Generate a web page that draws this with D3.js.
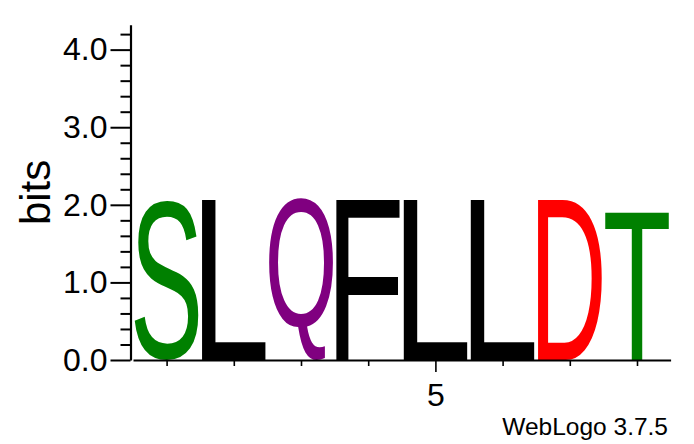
<!DOCTYPE html>
<html>
<head>
<meta charset="utf-8">
<script src="https://cdn.jsdelivr.net/npm/d3@7"></script>
<style>
  html, body { margin: 0; padding: 0; background: #fff; }
  svg { display: block; }
  text { font-family: 'Liberation Sans', Arial, Helvetica, sans-serif; }
</style>
</head>
<body>
<svg id="chart" width="694" height="444"></svg>
<script>
// ---- data ----
const positions = [1, 2, 3, 4, 5, 6, 7, 8];
const letters   = ["S", "L", "Q", "F", "L", "L", "D", "T"];
const bits      = [2.07, 2.07, 2.08, 2.07, 2.07, 2.07, 2.07, 1.92];
const colors    = ["#008000", "#000000", "#800080", "#000000", "#000000", "#000000", "#ff0000", "#008000"];
const yMajorTicks = [0, 1, 2, 3, 4];
const yMinorTicks = [0.2, 0.4, 0.6, 0.8, 1.2, 1.4, 1.6, 1.8, 2.2, 2.4, 2.6, 2.8, 3.2, 3.4, 3.6, 3.8, 4.2];
const xMajorTicks = [5];
const xMinorTicks = [1, 2, 3, 4, 6, 7, 8];
const yMax = 4.32;
const yLabel = "bits";
const fineprint = "WebLogo 3.7.5";

// ---- layout ----
const svg = d3.select("#chart");
const x = d3.scaleLinear().domain([0.5, 8.5]).range([133, 670.6]);
const y = d3.scaleLinear().domain([0, yMax]).range([360, 24.8]);
const FONT = "'Liberation Sans', Arial, Helvetica, sans-serif";

// measure glyph ink bounds with canvas
const ctx = document.createElement("canvas").getContext("2d");
const MF = 200;
ctx.font = MF + "px " + FONT;
function inkBox(ch) {
  const m = ctx.measureText(ch);
  return { l: m.actualBoundingBoxLeft, r: m.actualBoundingBoxRight,
           a: m.actualBoundingBoxAscent, d: m.actualBoundingBoxDescent };
}

// letters
const colW = x(1.5) - x(0.5);
const letterW = colW * 0.952;
const g = svg.append("g").attr("class", "letters");
positions.forEach((p, i) => {
  const b = inkBox(letters[i]);
  const w = b.l + b.r, h = b.a + b.d;
  const x0 = x(p) - letterW / 2;
  const yTop = y(bits[i]);
  const boxH = y(0) - yTop;
  const sx = letterW / w, sy = boxH / h;
  g.append("text")
    .attr("transform", `translate(${x0},${yTop}) scale(${sx},${sy}) translate(${b.l},${b.a})`)
    .attr("font-size", MF)
    .attr("fill", colors[i])
    .text(letters[i]);
});

// y axis: minor ticks
const yMinor = svg.append("g").attr("transform", "translate(130.5,0)")
  .call(d3.axisLeft(y).tickValues(yMinorTicks).tickSize(10).tickSizeOuter(0).tickFormat(""));
yMinor.select(".domain").remove();
yMinor.selectAll("line").attr("stroke-width", 2);

// y axis: major ticks + line
const yAx = svg.append("g").attr("transform", "translate(130.5,0)")
  .call(d3.axisLeft(y).tickValues(yMajorTicks).tickSize(20).tickSizeOuter(0).tickPadding(3)
        .tickFormat(d3.format(".1f")));
yAx.select(".domain").attr("stroke-width", 2.2);
yAx.selectAll("line").attr("stroke-width", 2);
yAx.selectAll("text").attr("font-size", 32).attr("font-family", FONT).attr("fill", "#000");

// x axis: line + ticks
const xMinor = svg.append("g").attr("transform", "translate(0,360)")
  .call(d3.axisBottom(x).tickValues(xMinorTicks).tickSize(6).tickSizeOuter(0).tickFormat(""));
xMinor.select(".domain").attr("stroke-width", 2);
xMinor.selectAll("line").attr("stroke-width", 1.6);

const xAx = svg.append("g").attr("transform", "translate(0,360)")
  .call(d3.axisBottom(x).tickValues(xMajorTicks).tickSize(12).tickSizeOuter(0).tickPadding(11)
        .tickFormat(d3.format("d")));
xAx.select(".domain").remove();
xAx.selectAll("line").attr("stroke-width", 1.6);
xAx.selectAll("text").attr("font-size", 32).attr("font-family", FONT).attr("fill", "#000");

// axis title
svg.append("text")
  .attr("transform", `translate(50,${(y(0) + y(yMax)) / 2}) rotate(-90)`)
  .attr("text-anchor", "middle")
  .attr("font-size", 42)
  .attr("fill", "#000")
  .text(yLabel);

// fineprint
svg.append("text")
  .attr("x", 668).attr("y", 435)
  .attr("text-anchor", "end")
  .attr("font-size", 24.5)
  .attr("fill", "#000")
  .text(fineprint);
</script>
</body>
</html>
